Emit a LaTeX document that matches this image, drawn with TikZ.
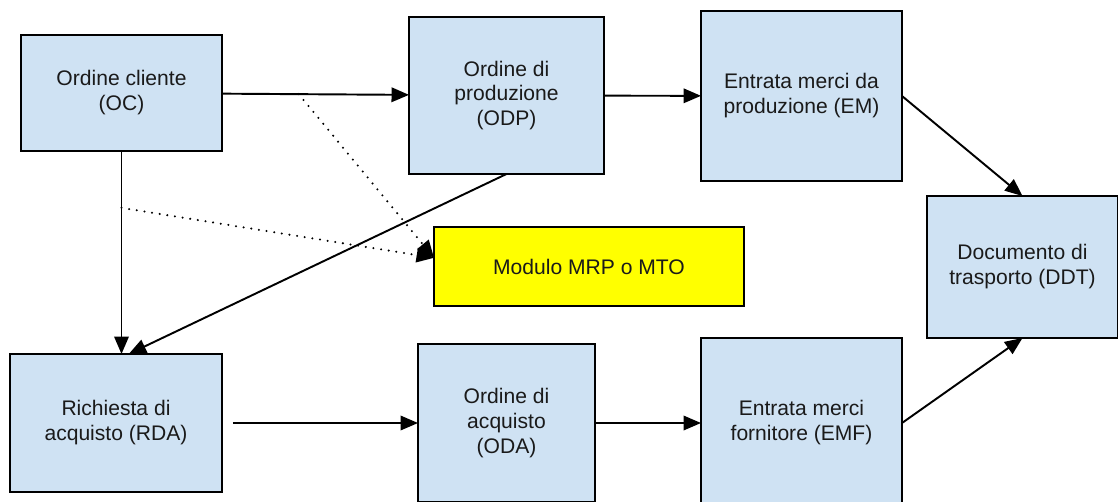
\documentclass[tikz,border=0pt]{standalone}
\usepackage{fontspec}
\setmainfont{Liberation Sans}
\usetikzlibrary{arrows.meta,calc}
\definecolor{boxblue}{HTML}{CFE2F3}
\definecolor{boxyellow}{HTML}{FFFF00}
\definecolor{inktext}{HTML}{1A1A1A}
\tikzset{
  docbox/.style={draw=black, line width=1.3pt, fill=boxblue, inner sep=0pt, outer sep=0pt,
    align=center, text=inktext, font=\fontsize{12}{14.2}\selectfont},
  mrpbox/.style={docbox, fill=boxyellow},
  flow/.style={line width=1.1pt, -{Triangle[length=3.5mm,width=2.9mm]}},
  hint/.style={flow, line cap=round, dash pattern=on 0pt off 4.4pt, line width=1.3pt}
}
\begin{document}
\begin{tikzpicture}[x=0.02cm, y=-0.02cm]
  \useasboundingbox (0,0) rectangle (1118,501);

  % upper row: customer order, production order, goods receipt
  \node[docbox, minimum width=4.02cm, minimum height=2.32cm] (oc)  at (121.5,93)  {Ordine cliente\\(OC)};
  \node[docbox, minimum width=3.9cm,  minimum height=3.14cm] (odp) at (506.5,95.5) {Ordine di\\produzione\\(ODP)};
  \node[docbox, minimum width=4.02cm, minimum height=3.4cm]  (em)  at (801.5,96)  {Entrata merci da\\produzione (EM)};

  % transport document on the right
  \node[docbox, minimum width=3.82cm, minimum height=2.84cm] (ddt) at (1022.5,267) {Documento di\\trasporto (DDT)};

  % planning module
  \node[mrpbox, minimum width=6.2cm, minimum height=1.58cm]  (mrp) at (589,266.5) {Modulo MRP o MTO};

  % lower row: purchase requisition, purchase order, supplier receipt
  \node[docbox, minimum width=4.24cm, minimum height=2.76cm] (rda) at (116,423)   {Richiesta di\\acquisto (RDA)};
  \node[docbox, minimum width=3.54cm, minimum height=3.16cm] (oda) at (506.5,423) {Ordine di\\acquisto\\(ODA)};
  \node[docbox, minimum width=4.02cm, minimum height=3.4cm]  (emf) at (801.5,423) {Entrata merci\\fornitore (EMF)};

  % helper points
  \coordinate (rdain) at ($(rda.north west)!0.56!(rda.north east)$);
  \coordinate (mrpin) at ($(mrp.north west)!0.39!(mrp.south west)$);
  \coordinate (octap) at ($(oc.east)!0.41!(odp.west)$);
  \coordinate (ocdown) at ($(oc.south)!0.28!(oc.south |- rda.north)$);

  % solid flows
  \draw[flow] (oc) -- (odp);
  \draw[flow] (odp) -- (em);
  \draw[flow] (em.east) -- (ddt.north);
  \draw[flow] (oc.south) -- (oc.south |- rda.north);
  \draw[flow] (odp.south) -- (rdain);
  \draw[flow, shorten <=0.22cm] (rda.east) -- (oda.west);
  \draw[flow] (oda.east) -- (emf.west);
  \draw[flow] (emf.east) -- (ddt.south);

  % dotted links into the planning module
  \draw[hint] (octap) -- (mrpin);
  \draw[hint] (ocdown) -- (mrpin);
\end{tikzpicture}
\end{document}
